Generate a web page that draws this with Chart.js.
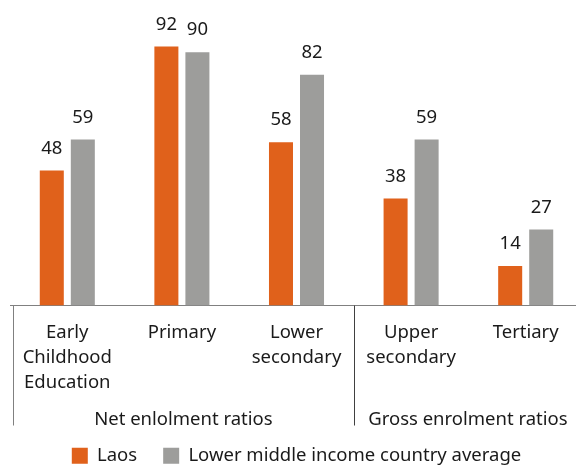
<!DOCTYPE html>
<html>
<head>
<meta charset="utf-8">
<script src="https://cdn.jsdelivr.net/npm/chart.js@4"></script>
<style>
  html, body { margin: 0; padding: 0; background: #fff; }
  #wrap { width: 576px; height: 465px; overflow: hidden; }
</style>
</head>
<body>
<div id="wrap"><canvas id="chart" width="586" height="465"></canvas></div>
<script>
var categories = [['Early', 'Childhood', 'Education'], 'Primary', ['Lower', 'secondary'], ['Upper', 'secondary'], 'Tertiary'];
var laos = [48, 92, 58, 38, 14];
var lmicAverage = [59, 90, 82, 59, 27];
var groupLabels = ['Net enlolment ratios', 'Gross enrolment ratios'];

var FONT = '"Noto Sans"';
var FSIZE = 18.5;

// data labels above bars + grouping lines / labels under the axis
var extras = {
  id: 'extras',
  afterDatasetsDraw: function (chart) {
    var ctx = chart.ctx;
    ctx.save();
    ctx.font = FSIZE + 'px ' + FONT;
    ctx.fillStyle = '#1a1a1a';
    ctx.textAlign = 'center';
    ctx.textBaseline = 'middle';
    chart.data.datasets.forEach(function (ds, i) {
      chart.getDatasetMeta(i).data.forEach(function (bar, j) {
        ctx.fillText(ds.data[j], bar.x, bar.y - 22);
      });
    });

    var x = chart.scales.x;
    var area = chart.chartArea;
    var bottom = area.bottom + 120;
    var sep = (x.getPixelForValue(2) + x.getPixelForValue(3)) / 2;
    ctx.strokeStyle = '#808080';
    ctx.lineWidth = 1;
    ctx.beginPath();
    ctx.moveTo(13.5, area.bottom); ctx.lineTo(13.5, bottom);
    ctx.stroke();
    ctx.strokeStyle = '#404040';
    ctx.beginPath();
    ctx.moveTo(Math.round(sep) + 0.5, area.bottom); ctx.lineTo(Math.round(sep) + 0.5, bottom);
    ctx.stroke();

    var edges = [13, sep, 582];
    groupLabels.forEach(function (label, g) {
      ctx.fillText(label, (edges[g] + edges[g + 1]) / 2, area.bottom + 114);
    });
    ctx.restore();
  }
};

new Chart(document.getElementById('chart'), {
  type: 'bar',
  data: {
    labels: categories,
    datasets: [{
      label: 'Laos',
      data: laos,
      backgroundColor: '#e0611b'
    }, {
      label: 'Lower middle income country average',
      data: lmicAverage,
      backgroundColor: '#9d9d9b'
    }]
  },
  options: {
    responsive: false,
    animation: false,
    categoryPercentage: 0.5415,
    barPercentage: 0.774,
    layout: { padding: { left: 10, right: 3, top: 24, bottom: -10 } },
    plugins: {
      legend: {
        position: 'bottom',
        labels: {
          font: { family: 'Noto Sans', size: FSIZE },
          color: '#1a1a1a',
          boxWidth: 16,
          boxHeight: 16,
          padding: 26
        }
      },
      tooltip: { enabled: false }
    },
    scales: {
      y: { display: false, min: 0, max: 100 },
      x: {
        grid: { display: false },
        border: { color: '#808080' },
        ticks: {
          font: { family: 'Noto Sans', size: FSIZE, lineHeight: 25 / 18.5 },
          color: '#1a1a1a',
          padding: 7,
          maxRotation: 0,
          autoSkip: false
        },
        afterFit: function (scale) { scale.height = 115; }
      }
    }
  },
  plugins: [extras]
});
</script>
</body>
</html>
